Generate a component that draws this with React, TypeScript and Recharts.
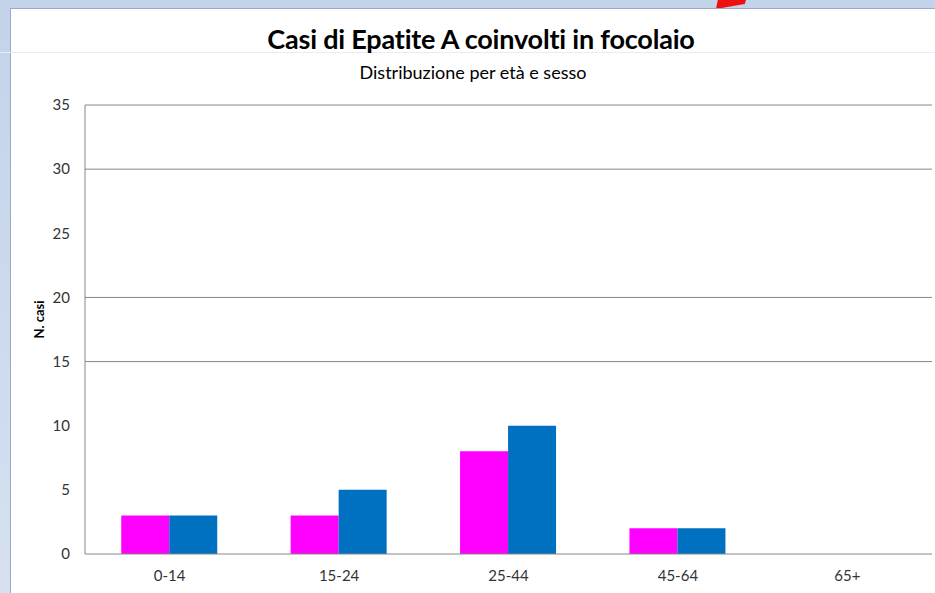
import { BarChart, Bar, XAxis, YAxis, ReferenceLine } from "recharts";

const ageGroups = ["0-14", "15-24", "25-44", "45-64", "65+"];
const femmine = [3, 3, 8, 2, 0];
const maschi = [3, 5, 10, 2, 0];
const yTicks = [0, 5, 10, 15, 20, 25, 30, 35];
// only some gridlines show up in the original screenshot
const gridValues = [15, 20, 30, 35];

const data = ageGroups.map((age, i) => ({ age, femmine: femmine[i], maschi: maschi[i] }));

const FONT = "Lato, 'Open Sans', sans-serif";
const AXIS = "#868686";

export default function App() {
  return (
    <div
      style={{
        position: "absolute",
        left: 0,
        top: 0,
        width: 935,
        height: 593,
        overflow: "hidden",
        background: "linear-gradient(180deg, #c3d3ea 0%, #d6e0f0 100%)",
        fontFamily: FONT,
      }}
    >
      {/* red arrow fragment peeking in at the top */}
      <div
        style={{
          position: "absolute",
          left: 714,
          top: 0,
          width: 32,
          height: 9,
          background: "#ee1111",
          clipPath: "polygon(12% 0, 100% 0, 96% 45%, 6% 100%)",
        }}
      />
      <div
        style={{
          position: "absolute",
          left: 10,
          top: 8,
          right: 0,
          bottom: 0,
          background: "#fff",
          borderLeft: "1px solid #9aa9c4",
          borderTop: "1px solid #9aa9c4",
        }}
      />
      <div style={{ position: "absolute", left: 0, top: 52, width: 935, height: 1, background: "#e9ecf5" }} />
      <div
        style={{
          position: "absolute",
          left: 0,
          width: 962,
          top: 22,
          textAlign: "center",
          fontSize: 27,
          fontWeight: 700,
          color: "#000",
          letterSpacing: -0.2,
        }}
      >
        Casi di Epatite A coinvolti in focolaio
      </div>
      <div
        style={{
          position: "absolute",
          left: 0,
          width: 946,
          top: 61,
          textAlign: "center",
          fontSize: 18,
          color: "#000",
        }}
      >
        Distribuzione per età e sesso
      </div>
      <div style={{ position: "absolute", left: 0, top: 0 }}>
        <BarChart
          width={935}
          height={593}
          data={data}
          margin={{ top: 105, right: 3, bottom: 9, left: 55 }}
          barCategoryGap="21.4%"
          barGap={0}
        >
          <XAxis
            dataKey="age"
            height={30}
            stroke={AXIS}
            tickLine={false}
            tickMargin={10}
            tick={{ fontSize: 15, fill: "#333", fontFamily: FONT }}
          />
          <YAxis
            width={30}
            domain={[0, 35]}
            ticks={yTicks}
            interval={0}
            stroke={AXIS}
            tickLine={false}
            tickMargin={9}
            tick={{ fontSize: 15, fill: "#333", fontFamily: FONT }}
            label={{
              value: "N. casi",
              angle: -90,
              position: "insideLeft",
              offset: 0,
              dx: -16,
              dy: -10,
              style: { fontSize: 13, fontWeight: 700, fill: "#000", fontFamily: FONT, textAnchor: "middle" },
            }}
          />
          {gridValues.map((v) => (
            <ReferenceLine key={v} y={v} stroke={AXIS} />
          ))}
          <Bar dataKey="femmine" fill="#ff00ff" isAnimationActive={false} />
          <Bar dataKey="maschi" fill="#0070c0" isAnimationActive={false} />
        </BarChart>
      </div>
    </div>
  );
}
